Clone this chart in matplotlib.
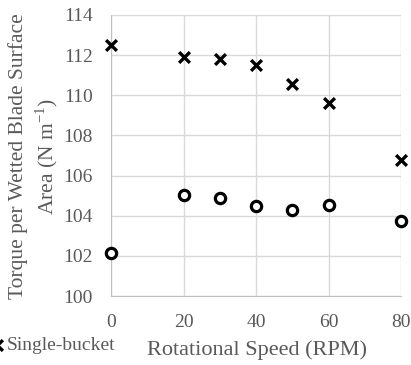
import matplotlib.pyplot as plt

plt.rcParams['font.family'] = ['Liberation Serif', 'DejaVu Serif']

rpm = [0, 20, 30, 40, 50, 60, 80]
single_bucket = [112.5, 111.9, 111.8, 111.5, 110.55, 109.6, 106.8]
other_series = [102.15, 105.05, 104.9, 104.5, 104.3, 104.55, 103.75]

xticks = [0, 20, 40, 60, 80]
yticks = [100, 102, 104, 106, 108, 110, 112, 114]

grey = "#595959"
gridc = "#d9d9d9"

fig = plt.figure(figsize=(4.11, 3.65), dpi=100)
ax = fig.add_axes([0.270, 0.189, 0.706, 0.770])

ax.scatter(rpm, single_bucket, marker="x", s=60, c="black", linewidths=2.4,
           zorder=3, label="Single-bucket", clip_on=False)
ax.scatter(rpm, other_series, marker="o", s=55, facecolors="white",
           edgecolors="black", linewidths=2.3, zorder=3, clip_on=False)

ax.set_xlim(0, 80)
ax.set_ylim(100, 114)
ax.set_xticks(xticks)
ax.set_yticks(yticks)
ax.grid(True, color=gridc, linewidth=1)
ax.set_axisbelow(True)
for s in ax.spines.values():
    s.set_visible(False)
ax.spines['left'].set_visible(True)
ax.spines['left'].set_color("#bfbfbf")
ax.spines['bottom'].set_visible(True)
ax.spines['bottom'].set_color("#bfbfbf")
ax.tick_params(length=0, labelsize=14, colors=grey)
ax.tick_params(axis="x", pad=13)
ax.tick_params(axis="y", pad=13)

fig.text(34 / 411, 1 - 156 / 365,
         "Torque per Wetted Blade Surface\nArea (N m$^{\\mathregular{-1}}$)",
         fontsize=15.5, color=grey, linespacing=1.3, rotation=90,
         ha="center", va="center")
fig.text(257 / 411, 1 - 350 / 365, "Rotational Speed (RPM)", fontsize=16,
         color=grey, ha="center", va="center")

fig.legend(loc="center left", bbox_to_anchor=(-0.073, 1 - 345 / 365), frameon=False,
           fontsize=14, handletextpad=0.0, handlelength=1.0, labelcolor=grey)

fig.savefig("out.png", dpi=100)
